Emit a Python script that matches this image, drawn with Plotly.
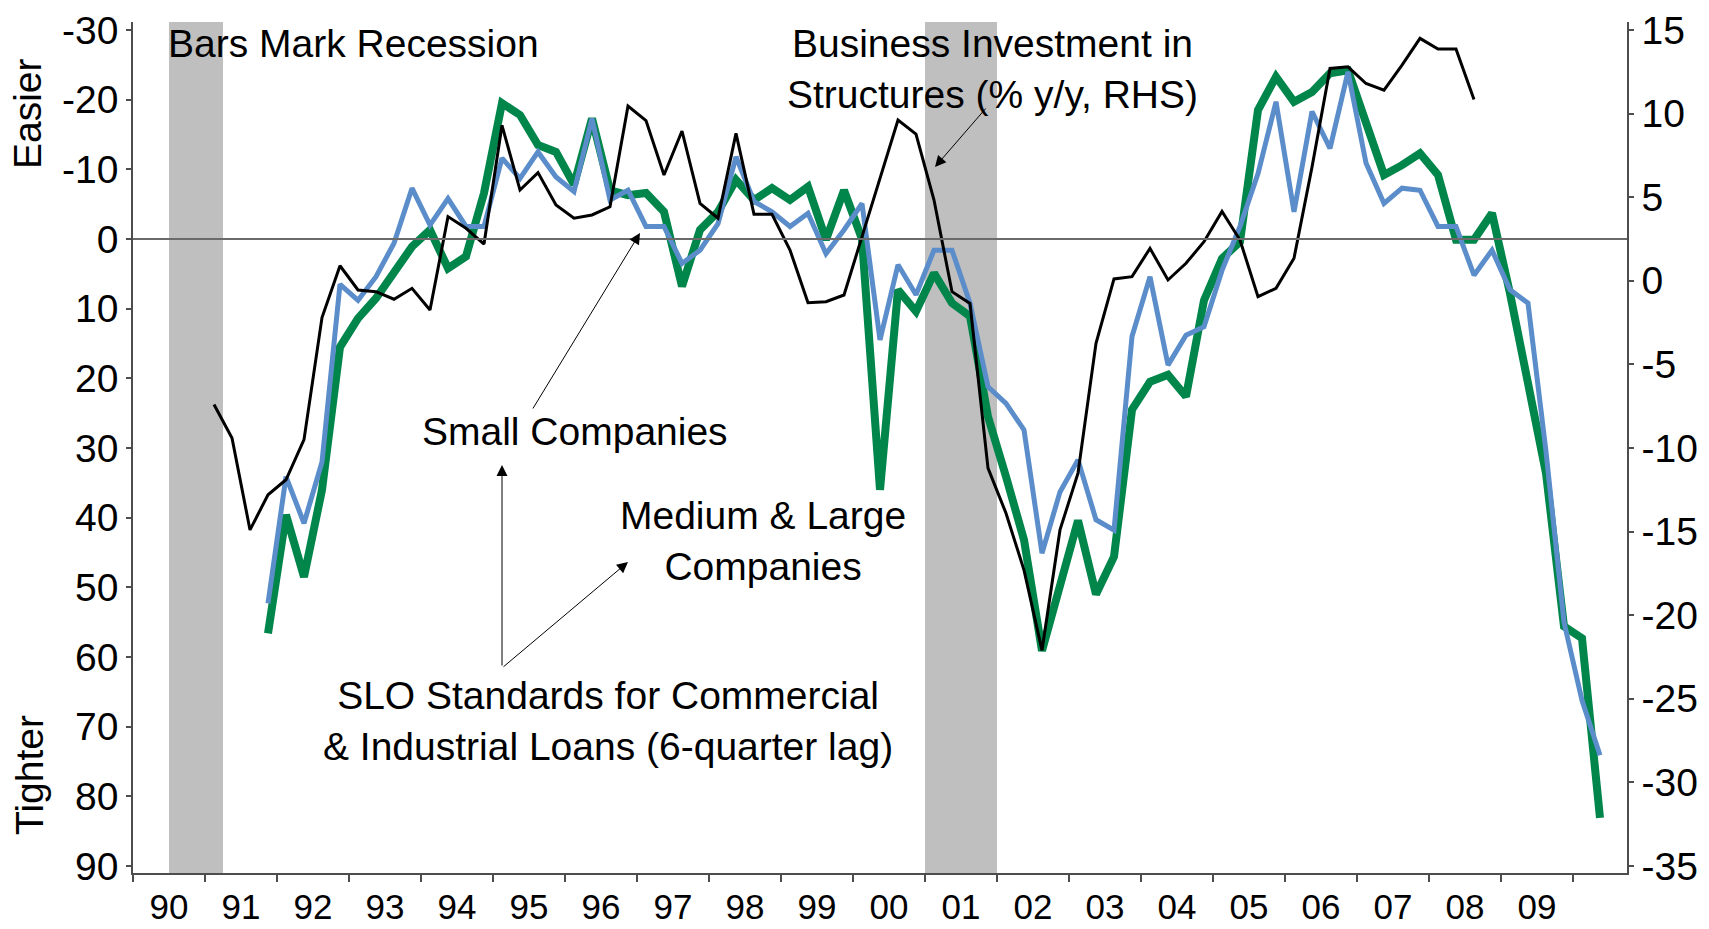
import plotly.graph_objects as go

# ---------------- data ----------------
year_labels = ["90", "91", "92", "93", "94", "95", "96", "97", "98", "99",
               "00", "01", "02", "03", "04", "05", "06", "07", "08", "09"]
first_label_year = 1990

# recession periods (fractional years)
recession_start = [1990.5, 2001.0]
recession_end = [1991.25, 2002.0]

# SLO standards for C&I loans, 6-quarter lag (net % tightening), quarterly from 1991Q4
slo_first_year, slo_first_q = 1991, 4
slo_medium_large = [
    56.6,
    39.6, 48.5, 36.0, 15.5,
    11.4, 8.5, 4.9, 1.1,
    -1.3, 4.2, 2.5, -6.6,
    -19.5, -17.8, -13.5, -12.5,
    -7.8, -17.3, -7.0, -6.3,
    -6.6, -3.9, 6.8, -1.3,
    -3.9, -8.5, -5.6, -7.3,
    -5.6, -7.5, 0.1, -7.0,
    0.0, 36.0, 7.3, 10.4,
    4.9, 9.2, 11.1, 25.5,
    34.1, 43.2, 59.1, 50.0,
    40.4, 51.0, 45.6, 24.5,
    20.5, 19.5, 22.6, 8.8,
    2.8, 0.4, -18.5, -23.3,
    -19.7, -21.1, -23.8, -24.2,
    -16.6, -9.2, -10.6, -12.3,
    -9.2, 0.1, 0.1, -3.7,
    7.8, 21.2, 33.6, 55.6,
    57.3, 83.1,
]
slo_small = [
    52.3,
    34.1, 40.8, 32.0, 6.5,
    8.8, 5.4, 0.6, -7.3,
    -2.0, -5.8, -1.8, -1.8,
    -11.6, -8.7, -12.5, -8.9,
    -6.8, -17.3, -5.6, -7.0,
    -1.8, -1.8, 3.5, 1.6,
    -2.2, -11.8, -5.4, -3.9,
    -1.8, -3.7, 2.1, -1.3,
    -5.1, 14.5, 3.7, 8.0,
    1.6, 1.6, 9.2, 21.2,
    23.6, 27.4, 45.1, 36.3,
    31.7, 40.3, 41.8, 14.0,
    5.4, 18.1, 13.8, 12.6,
    4.5, -1.8, -9.4, -19.7,
    -3.9, -18.3, -13.0, -24.0,
    -10.9, -5.1, -7.3, -7.0,
    -1.8, -1.8, 5.2, 1.6,
    7.3, 9.2, 30.5, 55.0,
    66.2, 74.1,
]

# Business investment in structures, % y/y (RHS), quarterly from 1991Q1
struct_first_year, struct_first_q = 1991, 1
struct_yoy = [
    -7.4, -9.4, -14.9, -12.8,
    -11.9, -9.5, -2.2, 0.9,
    -0.55, -0.65, -1.1, -0.45,
    -1.75, 3.84, 3.14, 2.2,
    9.3, 5.43, 6.47, 4.53,
    3.74, 3.94, 4.43, 10.45,
    9.58, 6.33, 8.96, 4.63,
    3.74, 8.82, 3.98, 3.98,
    1.84, -1.31, -1.25, -0.85,
    2.64, 6.13, 9.62, 8.78,
    4.83, -0.65, -1.35, -11.2,
    -13.9, -17.3, -22.1, -14.9,
    -11.5, -3.74, 0.11, 0.25,
    1.94, 0.05, 1.05, 2.34,
    4.15, 2.44, -0.95, -0.45,
    1.35, 6.8, 12.7, 12.8,
    11.8, 11.4, 12.9, 14.5,
    13.86, 13.86, 10.85,
]

left_ticks = list(range(-30, 91, 10))
left_ticktext = [str(v) for v in left_ticks]
right_ticks = list(range(-35, 16, 5))
right_ticktext = [str(v) for v in right_ticks]


def quarter_positions(first_year, first_q, n):
    out = []
    for i in range(n):
        k = (first_q - 1) + i
        y = first_year + k // 4
        q = k % 4
        out.append(y + q / 4 + 0.125)
    return out


x_slo = quarter_positions(slo_first_year, slo_first_q, len(slo_medium_large))
x_struct = quarter_positions(struct_first_year, struct_first_q, len(struct_yoy))

# ---------------- style ----------------
FONT = "Liberation Sans, Arial, sans-serif"
FS = 39
XFS = 35
GREEN = "#00854A"
BLUE = "#5A8DCA"
AXIS = "#4d4d4d"

W, H = 1709, 929
ML, MR, MT, MB = 133, 82, 22, 56
PW, PH = W - ML - MR, H - MT - MB

LEFT_RANGE = [91.0, -31.15]
RIGHT_RANGE = [-35.42, 15.48]
X_RANGE = [1990.0, 2010.75]


def px_to_paper(px, py):
    return (px - ML) / PW, (H - MB - py) / PH


def px_to_data(px, py):
    xx = X_RANGE[0] + (px - ML) / PW * (X_RANGE[1] - X_RANGE[0])
    yy = LEFT_RANGE[1] + (py - MT) / PH * (LEFT_RANGE[0] - LEFT_RANGE[1])
    return xx, yy


fig = go.Figure()

fig.add_trace(go.Scatter(x=x_slo, y=slo_medium_large, mode="lines",
                         line=dict(color=GREEN, width=8), name="Medium & Large"))
fig.add_trace(go.Scatter(x=x_slo, y=slo_small, mode="lines",
                         line=dict(color=BLUE, width=5), name="Small"))
fig.add_trace(go.Scatter(x=x_struct, y=struct_yoy, mode="lines", yaxis="y2",
                         line=dict(color="black", width=3), name="Structures"))

shapes = []
for a, b in zip(recession_start, recession_end):
    shapes.append(dict(type="rect", xref="x", yref="paper", x0=a, x1=b, y0=0, y1=1,
                       fillcolor="#BFBFBF", line=dict(width=0), layer="below"))
shapes.append(dict(type="line", xref="paper", yref="y", x0=0, x1=1, y0=0, y1=0,
                   line=dict(color="#6a6a6a", width=2), layer="above"))

annotations = []


def text_ann(txt, px, py, xanchor="center", angle=0):
    xp, yp = px_to_paper(px, py)
    annotations.append(dict(text=txt, x=xp, y=yp, xref="paper", yref="paper",
                            xanchor=xanchor, yanchor="middle", showarrow=False,
                            textangle=angle, font=dict(family=FONT, size=FS, color="black")))


text_ann("Bars Mark Recession", 166, 44, xanchor="left")
text_ann("Business Investment in<br>Structures (% y/y, RHS)", 992, 69)
text_ann("Small Companies", 575, 431)
text_ann("Medium &amp; Large<br>Companies", 763, 541)
text_ann("SLO Standards for Commercial<br>&amp; Industrial Loans (6-quarter lag)", 608, 721)
text_ann("Easier", 27, 114, angle=-90)
text_ann("Tighter", 29, 775, angle=-90)


def arrow(tip, tail, head=True):
    tx, ty = px_to_data(*tip)
    ax, ay = px_to_data(*tail)
    annotations.append(dict(x=tx, y=ty, ax=ax, ay=ay, xref="x", yref="y",
                            axref="x", ayref="y", text="", showarrow=True,
                            arrowhead=2 if head else 0, arrowsize=2.2, arrowwidth=1,
                            arrowcolor="black"))


arrow((935, 167), (987, 107))
arrow((640, 233), (532, 410))
arrow((502, 465), (502, 667))
arrow((628, 562), (502, 668))

fig.update_layout(
    width=W, height=H,
    margin=dict(l=ML, r=MR, t=MT, b=MB, autoexpand=False),
    paper_bgcolor="white", plot_bgcolor="white",
    showlegend=False,
    font=dict(family=FONT, size=FS, color="black"),
    shapes=shapes, annotations=annotations,
    xaxis=dict(range=X_RANGE, tickmode="array", automargin=False,
               tickvals=[first_label_year + i + 0.5 for i in range(len(year_labels))],
               ticktext=year_labels, ticks="", showgrid=False, zeroline=False,
               showline=True, linecolor=AXIS, linewidth=1.5, ticklabelstandoff=2,
               tickfont=dict(family=FONT, size=XFS),
               minor=dict(tickmode="array",
                          tickvals=list(range(first_label_year, first_label_year + len(year_labels) + 1)),
                          ticks="outside", ticklen=7, tickcolor=AXIS, tickwidth=1.5, showgrid=False)),
    yaxis=dict(range=LEFT_RANGE, tickmode="array", tickvals=left_ticks, ticktext=left_ticktext,
               automargin=False,
               ticks="outside", ticklen=5, tickcolor=AXIS, tickwidth=1.5,
               showgrid=False, zeroline=False, showline=True, linecolor=AXIS, linewidth=1.5,
               tickfont=dict(family=FONT, size=FS)),
    yaxis2=dict(range=RIGHT_RANGE, overlaying="y", side="right", tickmode="array",
                tickvals=right_ticks, ticktext=right_ticktext, automargin=False,
                ticks="outside", ticklen=5, tickcolor=AXIS, tickwidth=1.5,
                showgrid=False, zeroline=False, showline=True, linecolor=AXIS, linewidth=1.5,
                tickfont=dict(family=FONT, size=FS)),
)

fig.write_html("out.html", config={"displayModeBar": False},
               post_script="document.body.style.margin='0px';")
